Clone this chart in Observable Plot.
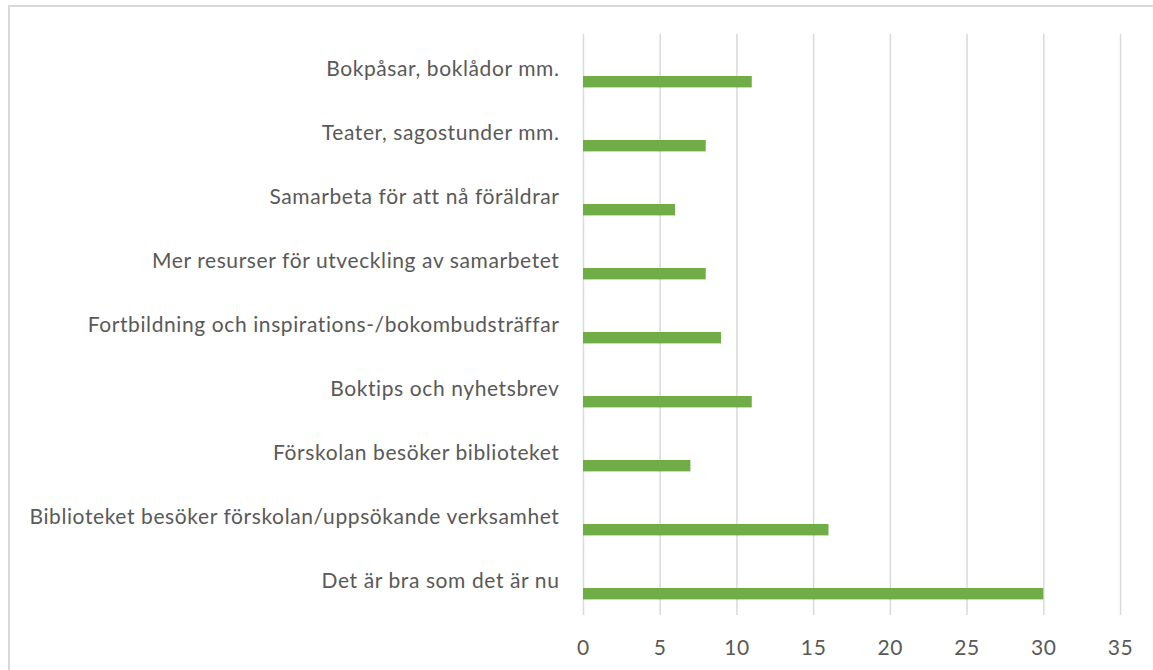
<!DOCTYPE html>
<html>
<head>
<meta charset="utf-8">
<script src="https://cdn.jsdelivr.net/npm/d3@7"></script>
<script src="https://cdn.jsdelivr.net/npm/@observablehq/plot@0.6"></script>
<style>
  html, body { margin: 0; padding: 0; background: #fff; overflow: hidden; }
  #wrap { position: relative; width: 1153px; height: 670px; }
  #frame { position: absolute; left: 8px; top: 5px; width: 1160px; height: 700px;
           border: 2px solid #d9d9d9; box-sizing: border-box; }
  #chart { position: absolute; left: 0; top: 0; }
  #chart text { letter-spacing: 0.6px; }
</style>
</head>
<body>
<div id="wrap"><div id="frame"></div><div id="chart"></div></div>
<script>
const categories = [
  "Bokpåsar, boklådor mm.",
  "Teater, sagostunder mm.",
  "Samarbeta för att nå föräldrar",
  "Mer resurser för utveckling av samarbetet",
  "Fortbildning och inspirations-/bokombudsträffar",
  "Boktips och nyhetsbrev",
  "Förskolan besöker biblioteket",
  "Biblioteket besöker förskolan/uppsökande verksamhet",
  "Det är bra som det är nu"
];
const values = [11, 8, 6, 8, 9, 11, 7, 16, 30];
const xTicks = [0, 5, 10, 15, 20, 25, 30, 35];

const data = categories.map((c, i) => ({category: c, value: values[i]}));

const chart = Plot.plot({
  width: 1153,
  height: 670,
  marginLeft: 583,
  marginRight: 33,
  marginTop: 34,
  marginBottom: 55,
  style: {fontFamily: "Lato, sans-serif", fontSize: "21px", color: "#595959", background: "transparent"},
  x: {domain: [0, 35], ticks: xTicks, label: null},
  y: {domain: categories, padding: 0, label: null},
  marks: [
    Plot.gridX(xTicks, {stroke: "#d9d9d9", strokeOpacity: 1, strokeWidth: 1.5}),
    Plot.barX(data, {x: "value", y: "category", fill: "#70ad47", insetTop: 39, insetBottom: 13.6}),
    Plot.axisX(xTicks, {tickSize: 0, tickPadding: 25, fill: "#595959", fontSize: 21, label: null}),
    Plot.axisY({tickSize: 0, tickPadding: 24, fill: "#595959", fontSize: 21, label: null})
  ]
});
document.getElementById("chart").appendChild(chart);
</script>
</body>
</html>
